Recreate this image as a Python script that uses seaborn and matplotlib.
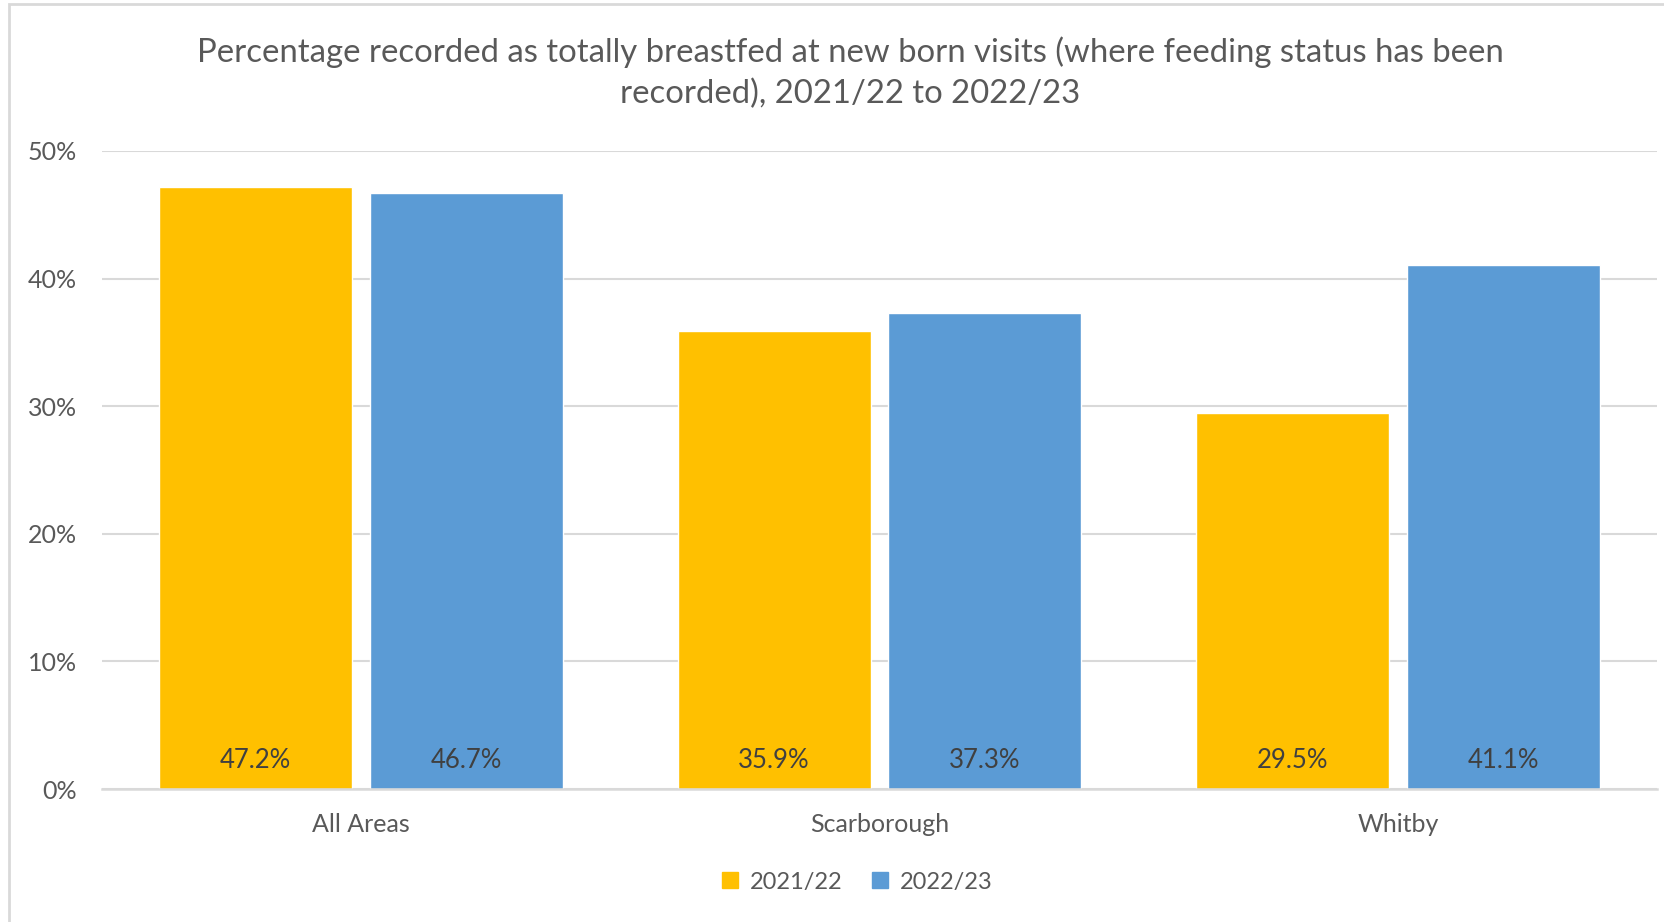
import pandas as pd
import matplotlib.pyplot as plt
import seaborn as sns
from matplotlib.patches import Rectangle
from matplotlib.lines import Line2D
from matplotlib.ticker import PercentFormatter

# data
areas = ['All Areas', 'Scarborough', 'Whitby']
years = ['2021/22', '2022/23']
pct_2122 = [0.472, 0.359, 0.295]
pct_2223 = [0.467, 0.373, 0.411]
colours = ['#FFC000', '#5B9BD5']

df = pd.DataFrame({'area': areas * 2,
                   'year': [years[0]] * 3 + [years[1]] * 3,
                   'pct': pct_2122 + pct_2223})

sns.set_style('white')
plt.rcParams['font.family'] = ['Lato', 'DejaVu Sans']

fig = plt.figure(figsize=(16.65, 9.22), dpi=100)
ax = fig.add_axes([102 / 1665, 1 - 789 / 922, (1657 - 102) / 1665, (789 - 151) / 922])

sns.barplot(data=df, x='area', y='pct', hue='year', palette=colours,
            width=0.814, gap=0.085, saturation=1, legend=False, ax=ax)

ax.set_ylim(0, 0.5)
ax.set_yticks([0, 0.1, 0.2, 0.3, 0.4, 0.5])
ax.yaxis.set_major_formatter(PercentFormatter(1, decimals=0))
ax.grid(axis='y', color='#d9d9d9', lw=1.5)
ax.set_axisbelow(True)
for s in ['top', 'right', 'left']:
    ax.spines[s].set_visible(False)
ax.spines['bottom'].set_color('#d9d9d9')
ax.spines['bottom'].set_linewidth(1.8)
ax.tick_params(axis='both', length=0, labelsize=18, colors='#595959')
ax.tick_params(axis='y', pad=18)
ax.tick_params(axis='x', pad=17)
ax.set_xlabel('')
ax.set_ylabel('')

# value labels near the base of each bar
vals = pct_2122 + pct_2223
for p, v in zip(ax.patches, vals):
    ax.text(p.get_x() + p.get_width() / 2, 0.022, f'{v * 100:.1f}%',
            ha='center', va='center', fontsize=18.5, color='#404040')

fig.text(0.5105, 0.921,
         'Percentage recorded as totally breastfed at new born visits (where feeding status has been\n'
         'recorded), 2021/22 to 2022/23',
         ha='center', va='center', fontsize=23.7, color='#595959', linespacing=1.45)

handles = [Line2D([], [], marker='s', ls='', color=c, markersize=11) for c in colours]
fig.legend(handles, years, loc='center', bbox_to_anchor=(0.5137, 1 - 882 / 922),
           ncol=2, frameon=False, fontsize=17, labelcolor='#595959',
           handletextpad=0.35, columnspacing=1.1, handlelength=1)

# outer chart border (cropped at right/bottom)
fig.patches.append(Rectangle((9 / 1665, -0.1), 1.2, 1 - 4 / 922 + 0.1,
                             transform=fig.transFigure, fill=False,
                             ec='#d9d9d9', lw=2))

fig.savefig('out.png', dpi=100)
